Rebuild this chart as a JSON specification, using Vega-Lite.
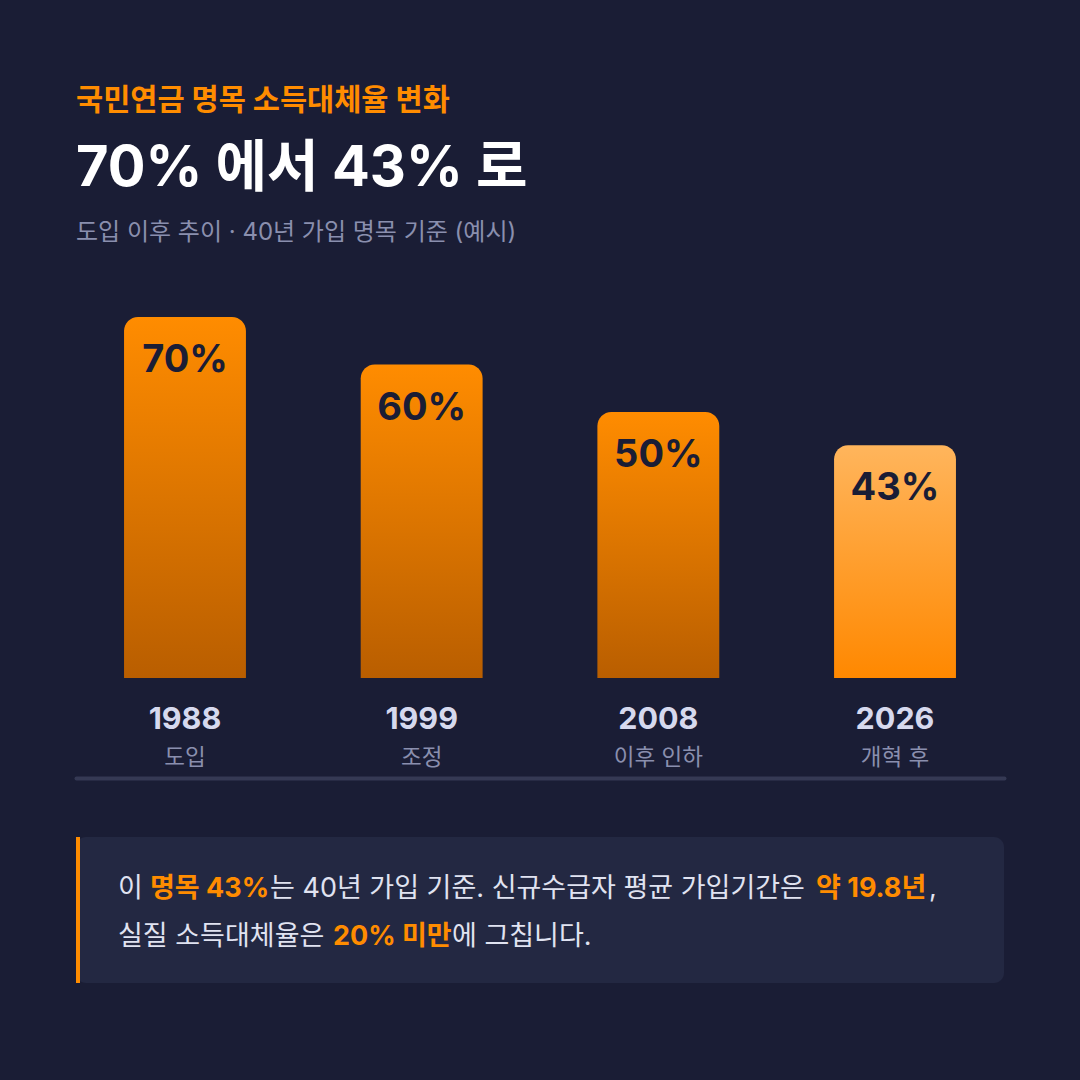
{
  "$schema": "https://vega.github.io/schema/vega-lite/v6.json",
  "background": "#1a1d35",
  "padding": {"left": 76, "right": 76, "top": 85, "bottom": 102},
  "config": {
    "font": "Inter, Noto Sans CJK KR",
    "view": {"stroke": null}
  },
  "title": {
    "text": "국민연금 명목 소득대체율 변화",
    "anchor": "start",
    "fontSize": 29.5,
    "fontWeight": "bold",
    "color": "#ff8c00",
    "offset": 25
  },
  "spacing": 57,
  "vconcat": [
    {
      "width": 928,
      "height": 399,
      "title": {
        "text": "70% 에서 43% 로",
        "subtitle": "도입 이후 추이 · 40년 가입 명목 기준 (예시)",
        "anchor": "start",
        "fontSize": 56,
        "fontWeight": "bold",
        "color": "#ffffff",
        "subtitleColor": "#8a8fae",
        "subtitleFontSize": 24,
        "subtitleFontWeight": "normal",
        "subtitlePadding": 23,
        "offset": 33
      },
      "data": {
        "values": [
          {"year": "1988", "label": "도입", "rate": 0.70, "phase": "past"},
          {"year": "1999", "label": "조정", "rate": 0.60, "phase": "past"},
          {"year": "2008", "label": "이후 인하", "rate": 0.50, "phase": "past"},
          {"year": "2026", "label": "개혁 후", "rate": 0.43, "phase": "reform"}
        ]
      },
      "encoding": {
        "x": {
          "field": "year",
          "type": "nominal",
          "sort": null,
          "scale": {"paddingInner": 0.485, "paddingOuter": 0.203},
          "axis": {
            "title": null,
            "labels": false,
            "ticks": false,
            "grid": false,
            "domainColor": "#353954",
            "domainWidth": 4,
            "domainCap": "round",
            "offset": 100
          }
        }
      },
      "layer": [
        {
          "transform": [{"filter": "datum.phase == 'past'"}],
          "mark": {
            "type": "bar",
            "cornerRadiusTopLeft": 14,
            "cornerRadiusTopRight": 14,
            "fill": {
              "gradient": "linear",
              "x1": 0, "y1": 0, "x2": 0, "y2": 1,
              "stops": [
                {"offset": 0, "color": "#ff8c00"},
                {"offset": 1, "color": "#b95e00"}
              ]
            }
          },
          "encoding": {
            "y": {"field": "rate", "type": "quantitative", "scale": {"domain": [-0.06, 0.78]}, "axis": null},
            "y2": {"datum": -0.06}
          }
        },
        {
          "transform": [{"filter": "datum.phase == 'reform'"}],
          "mark": {
            "type": "bar",
            "cornerRadiusTopLeft": 14,
            "cornerRadiusTopRight": 14,
            "fill": {
              "gradient": "linear",
              "x1": 0, "y1": 0, "x2": 0, "y2": 1,
              "stops": [
                {"offset": 0, "color": "#ffb55c"},
                {"offset": 1, "color": "#ff8800"}
              ]
            }
          },
          "encoding": {
            "y": {"field": "rate", "type": "quantitative", "scale": {"domain": [-0.06, 0.78]}, "axis": null},
            "y2": {"datum": -0.06}
          }
        },
        {
          "mark": {"type": "text", "baseline": "alphabetic", "dy": 55, "fontSize": 38, "fontWeight": "bold", "color": "#1a1d35"},
          "encoding": {
            "y": {"field": "rate", "type": "quantitative", "scale": {"domain": [-0.06, 0.78]}, "axis": null},
            "text": {"field": "rate", "type": "quantitative", "format": ".0%"}
          }
        },
        {
          "mark": {"type": "text", "baseline": "alphabetic", "dy": 51, "fontSize": 30.5, "fontWeight": "bold", "color": "#d6d9ee"},
          "encoding": {
            "y": {"datum": -0.06, "scale": {"domain": [-0.06, 0.78]}, "axis": null},
            "text": {"field": "year"}
          }
        },
        {
          "mark": {"type": "text", "baseline": "alphabetic", "dy": 87, "fontSize": 22.5, "color": "#8a8fae"},
          "encoding": {
            "y": {"datum": -0.06, "scale": {"domain": [-0.06, 0.78]}, "axis": null},
            "text": {"field": "label"}
          }
        }
      ]
    },
    {
      "width": 928,
      "height": 146,
      "view": {"fill": "#232842", "cornerRadius": 10, "stroke": null},
      "data": {
        "values": [
          {"line": 1, "part": "a", "text": "이", "hl": false},
          {"line": 1, "part": "b", "text": "명목 43%", "hl": true},
          {"line": 1, "part": "c", "text": "는 40년 가입 기준. 신규수급자 평균 가입기간은", "hl": false},
          {"line": 1, "part": "d", "text": "약 19.8년", "hl": true},
          {"line": 1, "part": "e", "text": ",", "hl": false},
          {"line": 2, "part": "f", "text": "실질 소득대체율은", "hl": false},
          {"line": 2, "part": "g", "text": "20% 미만", "hl": true},
          {"line": 2, "part": "h", "text": "에 그칩니다.", "hl": false}
        ]
      },
      "encoding": {
        "y": {"field": "line", "type": "ordinal", "scale": {"type": "point", "padding": 1.21}, "axis": null},
        "text": {"field": "text"}
      },
      "layer": [
        {
          "mark": {"type": "rule", "color": "#ff8c00", "strokeWidth": 4},
          "encoding": {"x": {"value": 2}, "y": {"value": 0}, "y2": {"value": 146}}
        },
        {
          "transform": [{"filter": "datum.part == 'a' || datum.part == 'f'"}],
          "mark": {"type": "text", "align": "left", "baseline": "middle", "dy": 3, "fontSize": 27, "color": "#e0e3f1"},
          "encoding": {"x": {"value": 42}}
        },
        {
          "transform": [{"filter": "datum.part == 'b'"}],
          "mark": {"type": "text", "align": "left", "baseline": "middle", "dy": 3, "fontSize": 27, "fontWeight": "bold", "color": "#ff8c00"},
          "encoding": {"x": {"value": 74}}
        },
        {
          "transform": [{"filter": "datum.part == 'c'"}],
          "mark": {"type": "text", "align": "left", "baseline": "middle", "dy": 3, "fontSize": 27, "color": "#e0e3f1"},
          "encoding": {"x": {"value": 194}}
        },
        {
          "transform": [{"filter": "datum.part == 'd'"}],
          "mark": {"type": "text", "align": "left", "baseline": "middle", "dy": 3, "fontSize": 27, "fontWeight": "bold", "color": "#ff8c00"},
          "encoding": {"x": {"value": 740}}
        },
        {
          "transform": [{"filter": "datum.part == 'e'"}],
          "mark": {"type": "text", "align": "left", "baseline": "middle", "dy": 3, "fontSize": 27, "color": "#e0e3f1"},
          "encoding": {"x": {"value": 853}}
        },
        {
          "transform": [{"filter": "datum.part == 'g'"}],
          "mark": {"type": "text", "align": "left", "baseline": "middle", "dy": 3, "fontSize": 27, "fontWeight": "bold", "color": "#ff8c00"},
          "encoding": {"x": {"value": 257}}
        },
        {
          "transform": [{"filter": "datum.part == 'h'"}],
          "mark": {"type": "text", "align": "left", "baseline": "middle", "dy": 3, "fontSize": 27, "color": "#e0e3f1"},
          "encoding": {"x": {"value": 376}}
        }
      ]
    }
  ]
}
